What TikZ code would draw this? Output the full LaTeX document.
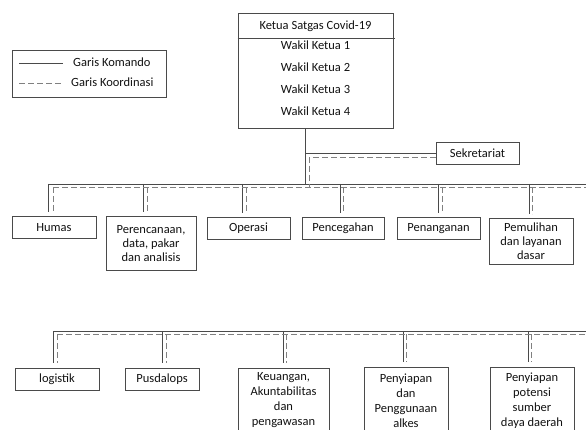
\documentclass[tikz,border=0pt]{standalone}
\usepackage{fontspec}
\setmainfont{Carlito}
\usetikzlibrary{positioning}
\definecolor{garisgelap}{HTML}{4A4A4A}
\definecolor{garisabu}{HTML}{808080}
\definecolor{teks}{HTML}{111111}
\tikzstyle{jabatan} = [rectangle, draw=garisgelap, line width=0.7pt, text=teks, align=center, font=\fontsize{12.5}{14}\selectfont, inner sep=2pt, anchor=north]
\tikzstyle{label} = [text=teks, font=\fontsize{12.5}{14}\selectfont, inner sep=0pt]
\tikzstyle{komando} = [draw=garisgelap, line width=0.8pt]
\tikzstyle{koordinasi} = [draw=garisabu, line width=0.8pt, dash pattern=on 6pt off 3pt]

\begin{document}
\begin{tikzpicture}[x=1pt, y=-1pt]
\clip (0,0) rectangle (586,430);
\useasboundingbox (0,0) rectangle (586,430);

% Legenda
\node (legenda) [jabatan, minimum width=154pt, minimum height=47pt] at (89,50) {};
\node (lkomando) [label, anchor=west] at (73,62) {Garis Komando};
\node (lkoordinasi) [label, anchor=west] at (71,82) {Garis Koordinasi};
\draw [komando, line width=0.6pt] ([xshift=-54pt, yshift=-1pt]lkomando.west) -- ([xshift=-10pt, yshift=-1pt]lkomando.west);
\draw [koordinasi, line width=0.6pt] ([xshift=-52pt, yshift=-1pt]lkoordinasi.west) -- ([xshift=-8pt, yshift=-1pt]lkoordinasi.west);

% Pimpinan
\node (pimpinan) [jabatan, minimum width=155pt, minimum height=115pt] at (315.5,13) {};
\node (ketua) [jabatan, draw=none, minimum width=155pt, minimum height=25pt] at (315.5,13) {Ketua Satgas Covid-19};
\draw [draw=garisgelap, line width=0.7pt] (ketua.south west) -- ([xshift=2pt]ketua.south east);
\foreach \i/\y in {1/45,2/67.5,3/89.5,4/111.5}
  \node (wakil\i) [label] at (315.5,\y) {Wakil Ketua \i};

\node (sekretariat) [jabatan, minimum width=83pt, minimum height=22pt] at (477.5,142) {Sekretariat};

% Bidang baris pertama
\node (humas) [jabatan, minimum width=84pt, minimum height=22pt] at (54,216) {Humas};
\node (perencanaan) [jabatan, minimum width=90pt, minimum height=54pt] at (151,216) {Perencanaan,\\data, pakar\\dan analisis};
\node (operasi) [jabatan, minimum width=83pt, minimum height=22pt] at (248.5,217) {Operasi};
\node (pencegahan) [jabatan, minimum width=82pt, minimum height=22pt] at (343,217) {Pencegahan};
\node (penanganan) [jabatan, minimum width=83pt, minimum height=22pt] at (438.5,217) {Penanganan};
\node (pemulihan) [jabatan, minimum width=84pt, minimum height=46pt] at (531,218) {Pemulihan\\dan layanan\\dasar};

% Bidang baris kedua
\node (logistik) [jabatan, minimum width=84pt, minimum height=22pt] at (57,368) {logistik};
\node (pusdalops) [jabatan, minimum width=74pt, minimum height=22pt] at (162,368) {Pusdalops};
\node (keuangan) [jabatan, minimum width=91pt, minimum height=64pt, font=\fontsize{12.5}{15}\selectfont] at (283.5,368) {Keuangan,\\Akuntabilitas\\dan\\pengawasan};
\node (penyiapan) [jabatan, minimum width=84pt, minimum height=66pt, font=\fontsize{12.5}{15}\selectfont] at (406,367) {Penyiapan\\dan\\Penggunaan\\alkes};
\node (potensi) [jabatan, minimum width=84pt, minimum height=66pt, font=\fontsize{12.5}{15}\selectfont] at (532,367) {Penyiapan\\potensi\\sumber\\daya daerah};

% Garis
\coordinate (pusat) at ([xshift=-10pt]pimpinan.south);
\coordinate (bus1-kanan) at (590,184);
\coordinate (koord1-kanan) at (590,187);
\coordinate (koord-pusat) at (309,187);
\coordinate (sek-d) at ([yshift=-4pt]sekretariat.west);
\coordinate (bus2-kanan) at (590,331);
\coordinate (koord2-kanan) at (590,334);

\foreach \n/\xk/\xd in {humas/48/53, perencanaan/143/147, operasi/242/246, pencegahan/340/343, penanganan/438/442, pemulihan/529/532}{
  \coordinate (\n-atas) at ([yshift=4pt]\n.north);
  \coordinate (\n-k) at (\xk,184);
  \coordinate (\n-d) at (\xd,187);
  \draw [komando] (\n-k) -- (\n-k |- \n-atas);
  \draw [koordinasi] (\n-d) -- (\n-d |- \n-atas);
}
\foreach \n/\xk/\xd in {logistik/53/57, pusdalops/162/166, keuangan/283/286, penyiapan/403/406, potensi/528/531}{
  \coordinate (\n-atas) at ([yshift=5pt]\n.north);
  \coordinate (\n-k) at (\xk,331);
  \coordinate (\n-d) at (\xd,334);
  \draw [komando] (\n-k) -- (\n-k |- \n-atas);
  \draw [koordinasi] (\n-d) -- (\n-d |- \n-atas);
}

\draw [komando] (humas-k) -- (bus1-kanan);
\draw [koordinasi] (humas-d) -- (koord1-kanan);
\draw [komando] (logistik-k) -- (bus2-kanan);
\draw [koordinasi] (logistik-d) -- (koord2-kanan);

\draw [komando] (pusat) -- (pusat |- humas-k);
\draw [komando] (pusat |- sekretariat.west) -- (sekretariat.west);
\draw [koordinasi] (sek-d) -| (koord-pusat);

\end{tikzpicture}
\end{document}
